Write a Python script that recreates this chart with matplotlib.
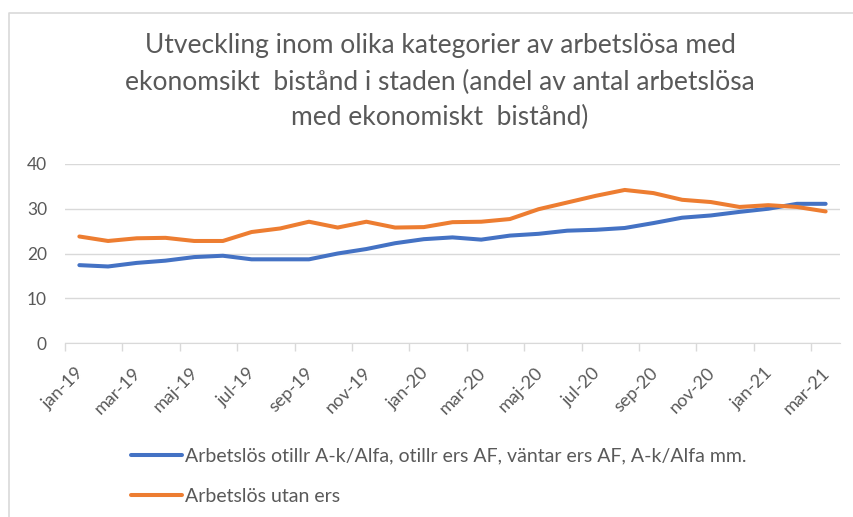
import matplotlib.pyplot as plt
from matplotlib.lines import Line2D
from matplotlib.transforms import ScaledTranslation

months = ['jan-19', 'feb-19', 'mar-19', 'apr-19', 'maj-19', 'jun-19', 'jul-19', 'aug-19', 'sep-19',
          'okt-19', 'nov-19', 'dec-19', 'jan-20', 'feb-20', 'mar-20', 'apr-20', 'maj-20', 'jun-20',
          'jul-20', 'aug-20', 'sep-20', 'okt-20', 'nov-20', 'dec-20', 'jan-21', 'feb-21', 'mar-21']
otillr = [17.4, 17.1, 17.9, 18.4, 19.2, 19.5, 18.7, 18.7, 18.7, 20.0, 21.0, 22.3, 23.2, 23.6,
          23.1, 24.0, 24.4, 25.1, 25.3, 25.7, 26.8, 28.0, 28.5, 29.3, 30.0, 31.1, 31.1]
utan_ers = [23.8, 22.8, 23.4, 23.5, 22.8, 22.8, 24.8, 25.6, 27.1, 25.8, 27.1, 25.8, 25.9, 27.0,
            27.1, 27.7, 29.9, 31.4, 32.9, 34.2, 33.5, 32.0, 31.5, 30.4, 30.8, 30.4, 29.4]
labels = ['Arbetslös otillr A-k/Alfa, otillr ers AF, väntar ers AF, A-k/Alfa mm.',
          'Arbetslös utan ers']
title_lines = ['Utveckling inom olika kategorier av arbetslösa med',
               'ekonomsikt  bistånd i staden (andel av antal arbetslösa',
               'med ekonomiskt  bistånd)']

plt.rcParams['font.family'] = ['Lato', 'DejaVu Sans']
grey = '#595959'

fig = plt.figure(figsize=(8.54, 5.17), dpi=100)
# chart frame: only top and left edges show in the crop
fig.lines.append(Line2D([9.5 / 854, 9.5 / 854, 1], [0, 1 - 13 / 517, 1 - 13 / 517],
                        transform=fig.transFigure, color='#d9d9d9', lw=1.2))

ax = fig.add_axes([65 / 854, 1 - 343 / 517, 775 / 854, 179 / 517])
x = range(len(months))
ax.plot(x, otillr, color='#4472C4', lw=2.9, solid_capstyle='round', label=labels[0])
ax.plot(x, utan_ers, color='#ED7D31', lw=2.9, solid_capstyle='round', label=labels[1])

ax.set_xlim(-0.5, len(months) - 0.5)
ax.set_ylim(0, 40)
ax.set_yticks([0, 10, 20, 30, 40])
ax.grid(axis='y', color='#d9d9d9', lw=1)
ax.set_axisbelow(True)
for s in ['top', 'right', 'left']:
    ax.spines[s].set_visible(False)
ax.spines['bottom'].set_color('#d9d9d9')
ax.tick_params(axis='y', length=0, pad=13, labelsize=12.5, labelcolor=grey)

ax.set_xticks(list(x)[::2])
ax.set_xticklabels(months[::2], rotation=45, ha='right', va='top', rotation_mode='anchor')
ax.set_xticks([i - 0.5 for i in range(0, len(months), 2)], minor=True)
ax.tick_params(axis='x', which='major', length=0, pad=12, labelsize=13, labelcolor=grey)
ax.tick_params(axis='x', which='minor', length=5.5, color='#d9d9d9', width=1)
shift = ScaledTranslation(-4 / 100, -5 / 100, fig.dpi_scale_trans)
for t in ax.get_xticklabels():
    t.set_transform(t.get_transform() + shift)

for i, line in enumerate(title_lines):
    fig.text(440 / 854, 1 - [45, 82, 117][i] / 517, line, ha='center', va='center',
             fontsize=19, color=grey)

fig.legend(loc='center left', bbox_to_anchor=(131 / 854, 1 - 476 / 517), frameon=False,
           borderpad=0, borderaxespad=0, handlelength=2.6, handletextpad=0.2,
           labelspacing=1.2, fontsize=14, labelcolor=grey)

fig.savefig('out.png', dpi=100)
